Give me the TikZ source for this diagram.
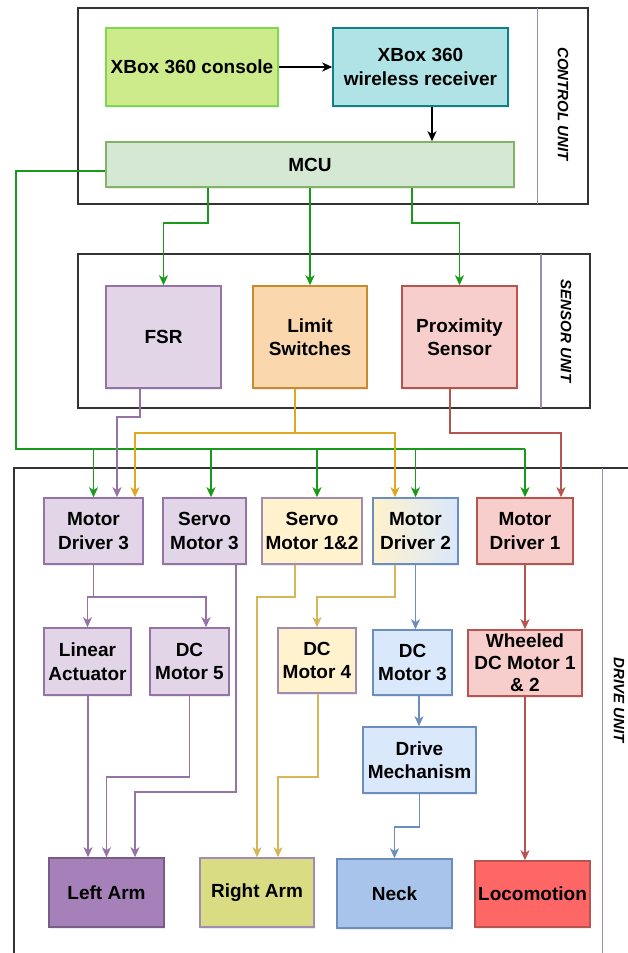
\documentclass[tikz,border=0pt]{standalone}
\usepackage{fontspec}
\setmainfont{Liberation Sans}
\usetikzlibrary{arrows.meta,shadows}
\definecolor{cgreenF}{HTML}{CDEB8B}\definecolor{cgreenD}{HTML}{7DD850}
\definecolor{cyanF}{HTML}{B0E3E6}\definecolor{cyanD}{HTML}{0E8088}
\definecolor{mcuF}{HTML}{D5E8D4}\definecolor{mcuD}{HTML}{82B366}
\definecolor{purF}{HTML}{E1D5E7}\definecolor{purD}{HTML}{9673A6}
\definecolor{orF}{HTML}{FAD7AC}\definecolor{orD}{HTML}{C98A2B}
\definecolor{redF}{HTML}{F8CECC}\definecolor{redD}{HTML}{B85450}
\definecolor{yelF}{HTML}{FFF2CC}\definecolor{yelD}{HTML}{D6B656}
\definecolor{bluF}{HTML}{DAE8FC}\definecolor{bluD}{HTML}{6C8EBF}
\definecolor{lArmF}{HTML}{A680B8}\definecolor{rArmF}{HTML}{DADC84}
\definecolor{neckF}{HTML}{A9C4EB}\definecolor{locoF}{HTML}{FF6666}
\definecolor{grayD}{HTML}{A08CB0}
\definecolor{gline}{HTML}{1A9A1A}
\definecolor{oline}{HTML}{E0A820}
\definecolor{frame}{HTML}{333333}
\begin{document}
\begin{tikzpicture}[x=1pt,y=-1pt,
  box/.style={draw, line width=1.5pt, inner sep=2pt, align=center,
    font=\fontsize{19}{23.5}\selectfont\bfseries,
    drop shadow={shadow xshift=1.2pt,shadow yshift=-1.5pt,opacity=0.15}},
  unitbox/.style={draw=frame, line width=1.6pt},
  divider/.style={draw=grayD, line width=1.5pt},
  unitlabel/.style={rotate=-90, font=\fontsize{15}{18}\selectfont\bfseries\itshape},
  tip/.style={-{Stealth[length=10pt,width=9pt,inset=2.8pt]}},
  karr/.style={tip, draw=black, line width=1.6pt},
  gbus/.style={draw=gline, line width=2.6pt},
  garr/.style={tip, draw=gline, line width=1.7pt},
  parr/.style={tip, draw=purD, line width=1.7pt},
  oarr/.style={tip, draw=oline, line width=1.7pt},
  rarr/.style={tip, draw=redD, line width=1.7pt},
  yarr/.style={tip, draw=yelD, line width=1.7pt},
  barr/.style={tip, draw=bluD, line width=1.7pt}]
\useasboundingbox (0,0) rectangle (628,953);
\fill[white] (0,0) rectangle (628,953);

% unit containers
\draw[unitbox] (78,8) rectangle (588,204);
\draw[divider] (537.7,8) -- (537.7,204);
\node[unitlabel] (lblctrl) at (563,104) {CONTROL UNIT};
\draw[unitbox] (78,254) rectangle (590,408);
\draw[divider] (541,254) -- (541,408);
\node[unitlabel] (lblsens) at (566,331) {SENSOR UNIT};
\draw[unitbox] (14,468) rectangle (660,990);
\draw[divider] (602.5,468) -- (602.5,990);
\node[unitlabel] (lbldrive) at (619,700) {DRIVE UNIT};

% control unit
\node[box, fill=cgreenF, draw=cgreenD, minimum width=172pt, minimum height=78pt] (console) at (192,67) {XBox 360 console};
\node[box, fill=cyanF, draw=cyanD, minimum width=175pt, minimum height=78pt] (recv) at (420.5,67) {XBox 360\\wireless receiver};
\node[box, fill=mcuF, draw=mcuD, minimum width=408pt, minimum height=45pt] (mcu) at (310,164.5) {MCU};

% sensor unit
\node[box, fill=purF, draw=purD, minimum width=115pt, minimum height=102pt] (fsr) at (163.5,337) {FSR};
\node[box, fill=orF, draw=orD, minimum width=114pt, minimum height=102pt] (limit) at (310,337) {Limit\\Switches};
\node[box, fill=redF, draw=redD, minimum width=115pt, minimum height=102pt] (prox) at (459.5,337) {Proximity\\Sensor};

% drive unit
\node[box, fill=purF, draw=purD, minimum width=99pt, minimum height=66pt] (md3) at (93.5,531) {Motor\\Driver 3};
\node[box, fill=purF, draw=purD, minimum width=83pt, minimum height=66pt] (servo3) at (204.5,531) {Servo\\Motor 3};
\node[box, fill=yelF, draw=grayD, minimum width=100pt, minimum height=66pt] (servo12) at (312,531) {Servo\\Motor 1\&2};
\node[box, left color=yelF, right color=bluF, draw=bluD, minimum width=85pt, minimum height=66pt] (md2) at (415.5,531) {Motor\\Driver 2};
\node[box, fill=redF, draw=redD, minimum width=96pt, minimum height=66pt] (md1) at (525,531) {Motor\\Driver 1};

\node[box, fill=purF, draw=purD, minimum width=87pt, minimum height=67pt] (linear) at (87.5,661.5) {Linear\\Actuator};
\node[box, fill=purF, draw=purD, minimum width=79pt, minimum height=67pt] (dc5) at (189.5,661.5) {DC\\Motor 5};
\node[box, fill=yelF, draw=grayD, minimum width=78pt, minimum height=65pt] (dc4) at (317,660.5) {DC\\Motor 4};
\node[box, fill=bluF, draw=bluD, minimum width=79pt, minimum height=65pt] (dc3) at (412.5,662.5) {DC\\Motor 3};
\node[box, fill=redF, draw=redD, minimum width=114pt, minimum height=66pt, font=\fontsize{19}{22}\selectfont\bfseries] (wheeled) at (525,663) {Wheeled\\DC Motor 1\\\& 2};
\node[box, fill=bluF, draw=bluD, minimum width=113pt, minimum height=66pt] (drivemech) at (419.5,760) {Drive\\Mechanism};

\node[box, fill=lArmF, draw=purD!80!black, minimum width=115pt, minimum height=69pt] (leftarm) at (106.5,892.5) {Left Arm};
\node[box, fill=rArmF, draw=grayD, minimum width=114pt, minimum height=69pt] (rightarm) at (257,892.5) {Right Arm};
\node[box, fill=neckF, draw=bluD, minimum width=115pt, minimum height=69pt] (neck) at (394.5,893.5) {Neck};
\node[box, fill=locoF, draw=redD, minimum width=115pt, minimum height=66pt] (loco) at (532.5,894) {Locomotion};

% helper coordinates
\coordinate (busy) at (16,449);
\coordinate (s3in) at ([xshift=6.5pt]servo3.north);
\coordinate (s12in) at ([xshift=5pt]servo12.north);
\coordinate (md3p) at ([xshift=23.5pt]md3.north);
\coordinate (md3o) at ([xshift=41.5pt]md3.north);
\coordinate (md2o) at ([xshift=-20.5pt]md2.north);
\coordinate (md1r) at ([xshift=36pt]md1.north);
\coordinate (fsrout) at ([xshift=-23.5pt]fsr.south);
\coordinate (limout) at ([xshift=-15pt]limit.south);
\coordinate (proxout) at ([xshift=-9.5pt]prox.south);
\coordinate (dc5in) at ([xshift=16.5pt]dc5.north);
\coordinate (s3out) at ([xshift=31.5pt]servo3.south);
\coordinate (s12out) at ([xshift=-17pt]servo12.south);
\coordinate (md2y) at ([xshift=-20.5pt]md2.south);
\coordinate (dc3out) at ([xshift=6.5pt]dc3.south);
\coordinate (lain) at ([xshift=-18.5pt]leftarm.north);
\coordinate (lain3) at ([xshift=28.5pt]leftarm.north);
\coordinate (rain2) at ([xshift=21pt]rightarm.north);

% control connectors
\draw[karr] (console.east) -- (recv.west);
\draw[karr] ([xshift=11.5pt]recv.south) -- ([xshift=122pt]mcu.north);

% MCU to sensors
\draw[garr] ([xshift=-102pt]mcu.south) -- ++(0,35) -| (fsr.north);
\draw[garr] (mcu.south) -- (limit.north);
\draw[garr] ([xshift=102pt]mcu.south) -- ++(0,35) -| (prox.north);

% MCU bus to drive unit
\draw[gbus] ([yshift=-6.5pt]mcu.west) -| (busy) -- (busy -| md1.north);
\draw[garr] (busy -| md1.north) -- (md1.north);
\draw[garr] (busy -| md3.north) -- (md3.north);
\draw[garr] (busy -| s3in) -- (s3in);
\draw[garr] (busy -| s12in) -- (s12in);
\draw[garr] (busy -| md2.north) -- (md2.north);

% sensors to drivers
\draw[parr] (fsrout) -- ++(0,28) -| (md3p);
\draw[oline, line width=1.7pt] (limout) -- ++(0,44) coordinate (limj);
\draw[oarr] (limj) -| (md3o);
\draw[oarr] (limj) -| (md2o);
\draw[rarr] (proxout) -- ++(0,44) -| (md1r);

% drive unit internal
\draw[purD, line width=1.7pt] (md3.south) -- ++(0,32) coordinate (md3j);
\draw[parr] (md3j) -| (linear.north);
\draw[parr] (md3j) -| (dc5in);
\draw[parr] (s3out) -- (s3out |- 0,792) -| (lain3);
\draw[parr] ([xshift=0.5pt]linear.south) -- (lain);
\draw[parr] (dc5.south) -- ++(0,81) -| (leftarm.north);
\draw[yarr] (s12out) -- ++(0,32) -| (rightarm.north);
\draw[yarr] (md2y) -- ++(0,32) -| (dc4.north);
\draw[yarr] ([xshift=1pt]dc4.south) -- ++(0,83) -| (rain2);
\draw[barr] (md2.south) -- (md2.south |- dc3.north);
\draw[barr] (dc3out) -- (dc3out |- drivemech.north);
\draw[barr] (drivemech.south) -- ++(0,33) -| (neck.north);
\draw[rarr] (md1.south) -- (wheeled.north);
\draw[rarr] (wheeled.south) -- (wheeled.south |- loco.north);
\end{tikzpicture}
\end{document}
